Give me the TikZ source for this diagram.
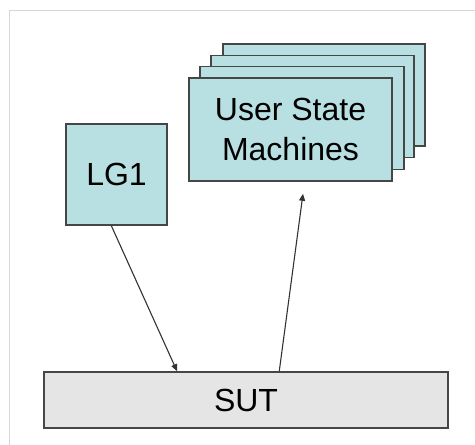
\documentclass[tikz,border=0pt]{standalone}
\usepackage{fontspec}
\setmainfont{Liberation Sans}
\usetikzlibrary{arrows.meta,calc}
\definecolor{boxfill}{RGB}{184,224,226}
\definecolor{sutfill}{RGB}{229,229,229}
\definecolor{edge}{RGB}{70,70,70}
\definecolor{frame}{RGB}{215,215,215}
\tikzset{
  tealbox/.style={draw=edge, line width=1.6pt, fill=boxfill, inner sep=0pt, align=center, font=\fontsize{32}{42}\selectfont},
  sutbox/.style={draw=edge, line width=1.6pt, fill=sutfill, inner sep=0pt, font=\fontsize{32}{42}\selectfont},
  conn/.style={line width=1.1pt, draw=black!80, -{Triangle[length=7pt,width=6pt]}}
}
\begin{document}
\begin{tikzpicture}[x=1pt,y=-1pt]
\useasboundingbox (0,0) rectangle (475,445);
\fill[white] (0,0) rectangle (475,445);
\draw[frame, line width=1pt] (9,446) -- (9,10) -- (476,10);
% stack of user state machines (back to front)
\node[tealbox, minimum width=202pt, minimum height=102pt] (b3) at (324,95) {};
\node[tealbox, minimum width=203pt, minimum height=102pt] (b2) at (312.5,106.5) {};
\node[tealbox, minimum width=204pt, minimum height=103pt] (b1) at (302,118) {};
\node[tealbox, minimum width=203pt, minimum height=103pt] (usm) at (290.5,129.5) {User State\\[-2pt]Machines};
\node[tealbox, minimum width=101pt, minimum height=101pt] (lg) at (116.5,174.5) {LG1};
\node[sutbox, minimum width=404pt, minimum height=56pt] (sut) at (246,400) {SUT};
\coordinate (lgout) at ($(lg.south west)!0.45!(lg.south east)$);
\coordinate (sutin) at ($(sut.north west)!0.33!(sut.north east)$);
\coordinate (sutout) at ($(sut.north west)!0.582!(sut.north east)$);
\coordinate (usmin) at ($(usm.south)+(12.5,12)$);
\draw[conn] (lgout) -- (sutin);
\draw[conn] (sutout) -- (usmin);
\end{tikzpicture}
\end{document}
